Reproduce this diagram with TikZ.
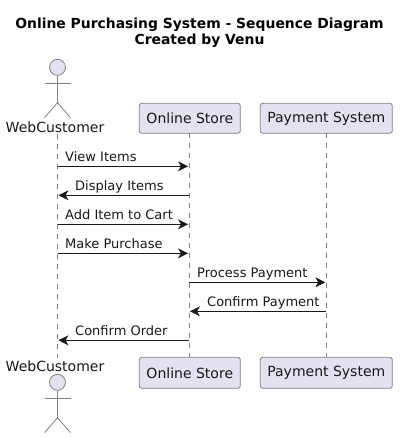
\documentclass[tikz,border=0pt]{standalone}
\usepackage{fontspec}
\setmainfont{DejaVu Sans}
\usetikzlibrary{positioning,arrows.meta}
\definecolor{partfill}{HTML}{E2E2F0}
\definecolor{partline}{HTML}{808080}
\definecolor{msgline}{HTML}{181818}

\begin{document}
\begin{tikzpicture}[
  x=1pt, y=-1pt,
  part/.style={draw=partline, fill=partfill, rounded corners=2.5pt, line width=0.8pt, minimum height=30pt, inner sep=0pt, font=\fontsize{14}{16}\selectfont, text=msgline},
  head/.style={draw=partline, fill=partfill, circle, minimum size=16pt, inner sep=0pt, line width=0.8pt},
  actorname/.style={font=\fontsize{14}{16}\selectfont, text=msgline, inner sep=0pt},
  ttl/.style={font=\bfseries\fontsize{13.9}{16}\selectfont, text=black, inner sep=0pt},
  limb/.style={draw=partline, line width=0.8pt},
  life/.style={draw=partline, line width=0.8pt, dash pattern=on 5pt off 5pt},
  msg/.style={draw=msgline, line width=0.8pt, -{Stealth[length=10pt, width=10pt, inset=3pt]}},
  lbl/.style={font=\fontsize{13}{15}\selectfont, text=msgline, inner sep=0pt, anchor=base west}]
  \useasboundingbox (0,0) rectangle (401,438);

  \node[ttl] (title) at (199.5,25) {Online Purchasing System - Sequence Diagram};
  \node[ttl] (sub) at (199.5,41) {Created by Venu};

  % top row
  \node[head] (custhead) at (57.5,67.3) {};
  \node[actorname] (custtop) at (55,127) {WebCustomer};
  \node[part, minimum width=101pt] (storetop) at (189.8,118.3) {Online Store};
  \node[part, minimum width=132pt] (paytop) at (326.3,118.3) {Payment System};

  % bottom row
  \node[actorname] (custbot) at (55,366) {WebCustomer};
  \node[head] (custfoot) at (57.5,382.3) {};
  \node[part, minimum width=101pt, minimum height=31pt] (storebot) at (189.8,372.8) {Online Store};
  \node[part, minimum width=132pt, minimum height=31pt] (paybot) at (326.3,372.8) {Payment System};

  % lifelines
  \coordinate (custa) at (57.5,134);
  \coordinate (custb) at (57.5,358);
  \coordinate (storea) at (189,133.3);
  \coordinate (storeb) at (189,357.3);
  \coordinate (paya) at (326.3,133.3);
  \coordinate (payb) at (326.3,357.3);
  \draw[life] (custa) -- (custb);
  \draw[life] (storea) -- (storeb);
  \draw[life] (paya) -- (payb);

  % the two stick figures
  \draw[limb] (custhead.south) -- ++(0,27) coordinate (hiptop);
  \draw[limb] (44.5,83.3) coordinate (armla) -- (70.5,83.3) coordinate (armra);
  \draw[limb] (44.5,117.7) coordinate (legla) -- (hiptop) -- (70.5,117.7) coordinate (legra);
  \draw[limb] (custfoot.south) -- ++(0,27) coordinate (hipbot);
  \draw[limb] (44.5,398.3) coordinate (armlb) -- (70.5,398.3) coordinate (armrb);
  \draw[limb] (44.5,432.7) coordinate (leglb) -- (hipbot) -- (70.5,432.7) coordinate (legrb);

  % messages
  \draw[msg] (57.5,166.3) coordinate (ma) -- (188,166.3) coordinate (mb);
  \node[lbl] (viewlbl) at (65,161.7) {View Items};
  \draw[msg] (189,195.3) coordinate (mc) -- (58.5,195.3) coordinate (md);
  \node[lbl] (displbl) at (75,190.7) {Display Items};
  \draw[msg] (57.5,224.3) coordinate (me) -- (188,224.3) coordinate (mf);
  \node[lbl] (addlbl) at (65,219.7) {Add Item to Cart};
  \draw[msg] (57.5,253.3) coordinate (mg) -- (188,253.3) coordinate (mh);
  \node[lbl] (buylbl) at (65,248.7) {Make Purchase};
  \draw[msg] (189,282.3) coordinate (mi) -- (325.3,282.3) coordinate (mj);
  \node[lbl] (proclbl) at (197,277.7) {Process Payment};
  \draw[msg] (326.3,311.3) coordinate (mk) -- (190,311.3) coordinate (ml);
  \node[lbl] (conflbl) at (207,306.7) {Confirm Payment};
  \draw[msg] (189,340.3) coordinate (mm) -- (58.5,340.3) coordinate (mn);
  \node[lbl] (ordlbl) at (75,335.7) {Confirm Order};
\end{tikzpicture}
\end{document}
